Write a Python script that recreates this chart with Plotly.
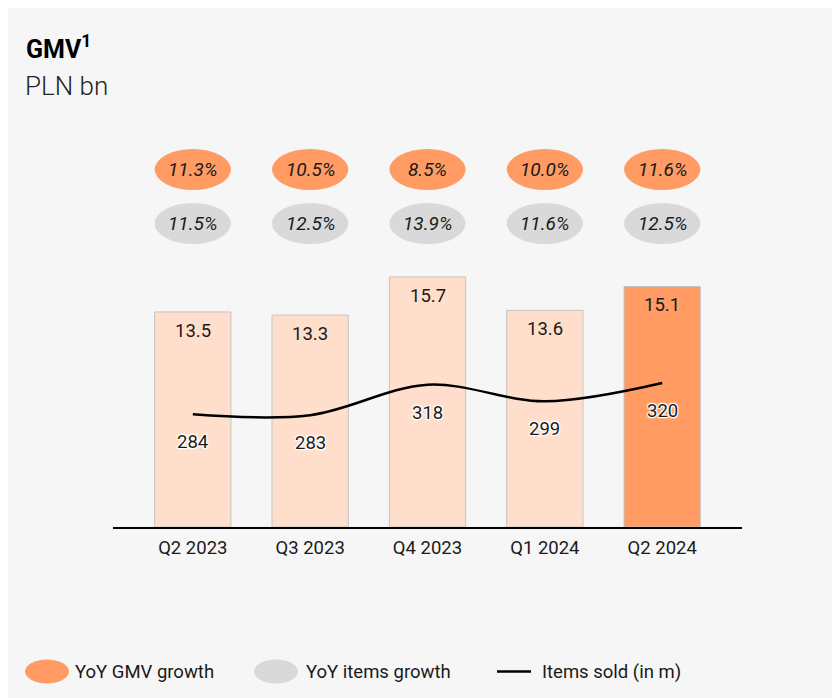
import plotly.graph_objects as go

# ---- data ----
quarters = ["Q2 2023", "Q3 2023", "Q4 2023", "Q1 2024", "Q2 2024"]
gmv = [13.5, 13.3, 15.7, 13.6, 15.1]
items_sold = [284, 283, 318, 299, 320]
yoy_gmv = ["11.3%", "10.5%", "8.5%", "10.0%", "11.6%"]
yoy_items = ["11.5%", "12.5%", "13.9%", "11.6%", "12.5%"]

# ---- styling ----
W, H = 840, 698
OFF = 8  # page body margin
L, R, T, B = 105, 106, 122, 179
PW, PH = W - L - R, H - T - B
ORANGE = "#FF9B63"
LIGHT = "#FFDFCB"
GRAY = "#D9D9D9"
BG = "#F6F6F6"
FONT = "Roboto"
TXT = "#1a1a1a"
HALO = "1px 1px 1px #fff, -1px -1px 1px #fff, 1px -1px 1px #fff, -1px 1px 1px #fff, 0px 1px 1px #fff, 0px -1px 1px #fff"


def px_x(p):
    """page pixel x -> paper coordinate"""
    return (p - OFF - L) / PW


def px_y(p):
    """page pixel y -> paper coordinate"""
    return (H - B - (p - OFF)) / PH


bar_colors = [LIGHT] * (len(quarters) - 1) + [ORANGE]

fig = go.Figure()
fig.add_trace(go.Bar(
    x=quarters, y=gmv, width=0.65,
    marker=dict(color=bar_colors, line=dict(color="#C4C4C4", width=1)),
    showlegend=False, hoverinfo="skip",
))
fig.add_trace(go.Scatter(
    x=quarters, y=items_sold, yaxis="y2", mode="lines",
    line=dict(color="black", width=2.5, shape="spline", smoothing=1.0),
    showlegend=False, hoverinfo="skip",
))

shapes = []
annotations = []

# ellipses with growth rates
for i, q in enumerate(quarters):
    for txt, col, cy in ((yoy_gmv[i], ORANGE, 169.5), (yoy_items[i], GRAY, 223.5)):
        shapes.append(dict(type="circle", xref="x", yref="paper",
                           x0=i - 0.325, x1=i + 0.325,
                           y0=px_y(cy + 20.5), y1=px_y(cy - 20.5),
                           fillcolor=col, line=dict(width=0)))
        annotations.append(dict(x=q, y=px_y(cy), xref="x", yref="paper", text=txt,
                                showarrow=False, yanchor="middle",
                                font=dict(family=FONT, size=19, color=TXT, style="italic")))
    # bar value labels
    annotations.append(dict(x=q, y=gmv[i], xref="x", yref="y", text=f"{gmv[i]:.1f}",
                            showarrow=False, yanchor="middle", yshift=-19,
                            font=dict(family=FONT, size=18.5, color=TXT)))
    # line labels
    annotations.append(dict(x=q, y=items_sold[i], xref="x", yref="y2", text=str(items_sold[i]),
                            showarrow=False, yanchor="middle", yshift=-28,
                            font=dict(family=FONT, size=18.5, color=TXT, shadow=HALO)))

# title
annotations.append(dict(x=px_x(24), y=px_y(48), xref="paper", yref="paper",
                        text="<b>GMV<sup>1</sup></b>", showarrow=False,
                        xanchor="left", yanchor="middle",
                        font=dict(family=FONT, size=25, color="black")))
annotations.append(dict(x=px_x(23), y=px_y(86), xref="paper", yref="paper",
                        text="PLN bn", showarrow=False, xanchor="left", yanchor="middle",
                        font=dict(family=FONT, size=26, color="#222", weight=300)))

# manual legend
LY = 671.5
shapes.append(dict(type="circle", xref="paper", yref="paper", x0=px_x(25), x1=px_x(69),
                   y0=px_y(LY + 12), y1=px_y(LY - 12), fillcolor=ORANGE, line=dict(width=0)))
shapes.append(dict(type="circle", xref="paper", yref="paper", x0=px_x(254), x1=px_x(298),
                   y0=px_y(LY + 12), y1=px_y(LY - 12), fillcolor=GRAY, line=dict(width=0)))
shapes.append(dict(type="line", xref="paper", yref="paper", x0=px_x(497), x1=px_x(531),
                   y0=px_y(LY), y1=px_y(LY), line=dict(color="black", width=2.5)))
for xpos, txt in ((73, "YoY GMV growth"), (304, "YoY items growth"), (540, "Items sold (in m)")):
    annotations.append(dict(x=px_x(xpos), y=px_y(LY), xref="paper", yref="paper", text=txt,
                            showarrow=False, xanchor="left", yanchor="middle",
                            font=dict(family=FONT, size=18.5, color=TXT)))

fig.update_layout(
    width=W, height=H,
    margin=dict(l=L, r=R, t=T, b=B, pad=0),
    paper_bgcolor=BG, plot_bgcolor=BG,
    font=dict(family=FONT, size=18.5, color=TXT),
    xaxis=dict(type="category", range=[-0.68, 4.68], showgrid=False, zeroline=False,
               showline=True, linecolor="black", linewidth=1.5, ticks="",
               tickfont=dict(family=FONT, size=18.5, color=TXT), ticklabelstandoff=3),
    yaxis=dict(range=[0, PH / 15.93], visible=False, showgrid=False, zeroline=False),
    yaxis2=dict(range=[(661.4 - 527) / 0.87, (661.4 - 130) / 0.87], overlaying="y",
                visible=False, showgrid=False, zeroline=False),
    shapes=shapes, annotations=annotations,
    bargap=0.35,
)

fig.write_html("out.html")
